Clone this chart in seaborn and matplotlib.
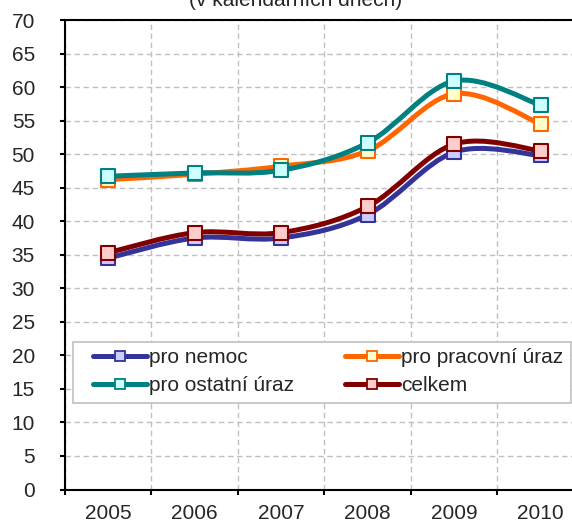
import numpy as np
import pandas as pd
import matplotlib
matplotlib.use('Agg')
import matplotlib.pyplot as plt
from matplotlib.path import Path
from matplotlib.patches import PathPatch, Rectangle
from matplotlib.lines import Line2D
import seaborn as sns

years = ['2005', '2006', '2007', '2008', '2009', '2010']
series_names = ['pro nemoc', 'pro pracovní úraz', 'pro ostatní úraz', 'celkem']
nemoc = [34.5, 37.5, 37.5, 41.0, 50.3, 49.8]
pracovni = [46.2, 47.0, 48.2, 50.5, 59.0, 54.5]
ostatni = [46.7, 47.2, 47.6, 51.7, 60.9, 57.3]
celkem = [35.3, 38.3, 38.3, 42.2, 51.5, 50.5]

line_colors = ['#333399', '#ff6600', '#008080', '#800000']
fill_colors = ['#ccccff', '#ffffcc', '#ccffff', '#ffcccc']

title = '(v kalendářních dnech)'


def smooth_path(xs, ys):
    # Excel-style smoothed line: cubic Bezier through every point
    pts = np.column_stack([xs, ys]).astype(float)
    n = len(pts)
    verts = [pts[0]]
    codes = [Path.MOVETO]
    for i in range(n - 1):
        p0 = pts[i - 1] if i > 0 else pts[i]
        p1 = pts[i]
        p2 = pts[i + 1]
        p3 = pts[i + 2] if i + 2 < n else pts[i + 1]
        c1 = p1 + (p2 - p0) / 6.0
        c2 = p2 - (p3 - p1) / 6.0
        verts += [c1, c2, p2]
        codes += [Path.CURVE4] * 3
    return Path(verts, codes)


df = pd.DataFrame({'year': years, 'pro nemoc': nemoc, 'pro pracovní úraz': pracovni,
                   'pro ostatní úraz': ostatni, 'celkem': celkem})
df['pos'] = np.arange(len(years))
long = df.melt(id_vars=['year', 'pos'], var_name='serie', value_name='value')

sns.set_theme(style='white')
plt.rcParams['font.family'] = ['Liberation Sans', 'DejaVu Sans']

W, H = 572, 524
fig = plt.figure(figsize=(W / 100, H / 100), dpi=100)
ax_left, ax_top, ax_bottom = 65, 20, 489.5
ax = fig.add_axes([ax_left / W, (H - ax_bottom) / H, 519 / W, (ax_bottom - ax_top) / H])
ax.set_axisbelow(True)

for i, name in enumerate(series_names):
    sub = long[long['serie'] == name]
    patch = PathPatch(smooth_path(sub['pos'], sub['value']), fill=False,
                      edgecolor=line_colors[i], lw=3.6, capstyle='round',
                      joinstyle='round', zorder=3 + 2 * i)
    ax.add_patch(patch)
    sns.scatterplot(data=sub, x='pos', y='value', marker='s', s=100,
                    color=fill_colors[i], edgecolor=line_colors[i],
                    linewidth=1.5, zorder=4 + 2 * i, ax=ax, legend=False)

ax.set_xlim(-0.5, 5.5)
ax.set_ylim(0, 70)
ax.set_xlabel('')
ax.set_ylabel('')

ax.set_xticks(np.arange(-0.5, 6.0, 1.0))
ax.set_xticklabels([])
ax.set_xticks(np.arange(len(years)), minor=True)
ax.set_xticklabels(years, minor=True, fontsize=15)
ax.tick_params(axis='x', which='major', direction='out', length=3.6, width=1.5,
               color='black', bottom=True)
ax.tick_params(axis='x', which='minor', length=0, pad=10.5)

ax.set_yticks(np.arange(0, 75, 5))
ax.set_yticklabels([str(v) for v in range(0, 75, 5)], fontsize=15)
ax.tick_params(axis='y', direction='out', length=3.6, width=1.5, color='black',
               left=True, pad=18)

ax.grid(True, which='major', color='#c0c0c0', linestyle=(0, (4, 2.5)), lw=1)

for side in ['top', 'left', 'bottom']:
    ax.spines[side].set_color('black')
    ax.spines[side].set_linewidth(1.5)
ax.spines['right'].set_visible(False)

# legend box (frame drawn separately so padding matches the original)
ax_h = ax_bottom - ax_top
x0 = (72.7 - ax_left) / 519
x1 = (570.7 - ax_left) / 519
y_top = (ax_bottom - 341.7) / ax_h
y_bot = (ax_bottom - 402.7) / ax_h
ax.add_patch(Rectangle((x0, y_bot), x1 - x0, y_top - y_bot, transform=ax.transAxes,
                       facecolor='white', edgecolor='#c0c0c0', lw=1.2, zorder=20,
                       clip_on=False))

handles = [Line2D([], [], color=line_colors[i], lw=3.6, marker='s', markersize=6.5,
                  markerfacecolor=fill_colors[i], markeredgecolor=line_colors[i],
                  markeredgewidth=1.3) for i in range(len(series_names))]
order = [0, 2, 1, 3]
leg = ax.legend([handles[k] for k in order], [series_names[k] for k in order],
                ncol=2, loc='upper left',
                bbox_to_anchor=(93 / W, 1 - 348 / H), bbox_transform=fig.transFigure,
                frameon=False, fontsize=15, handlelength=2.57, handletextpad=0.1,
                columnspacing=2.48, labelspacing=0.44, borderpad=0, borderaxespad=0)
leg.set_zorder(21)

fig.text(295.5 / W, 1 - 6 / H, title, ha='center', va='baseline', fontsize=15)

fig.savefig('out.png', dpi=100)
